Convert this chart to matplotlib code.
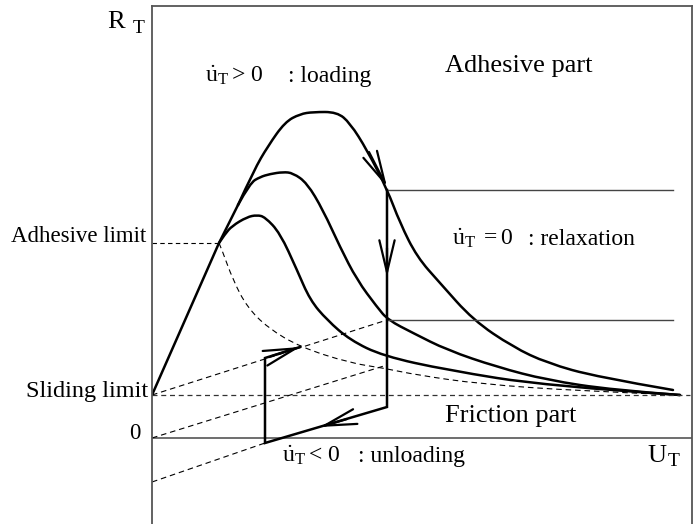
import matplotlib
matplotlib.use("Agg")
import matplotlib.pyplot as plt
from matplotlib.path import Path
from matplotlib.patches import PathPatch

plt.rcParams['font.family'] = ['Liberation Serif', 'DejaVu Serif']
plt.rcParams['mathtext.fontset'] = 'custom'
plt.rcParams['mathtext.rm'] = 'Liberation Serif'
plt.rcParams['mathtext.it'] = 'Liberation Serif:italic'

# ---- data (U, R) read from the schematic ----
sliding_limit = 4.3
adhesive_limit = 19.5

load_U = [0.0, 6.7, 8.6]
load_R = [4.3, 19.5, 23.3]

outer_U = [8.6, 10.2, 11.6, 13.3, 14.8, 16.1, 18.5, 19.8, 21.5, 23.5, 24.8, 26.5, 28.8, 32.1, 36.1, 39.5, 44.5, 52.1]
outer_R = [23.3, 26.8, 29.2, 31.6, 32.4, 32.6, 32.6, 31.5, 28.8, 24.9, 21.5, 18.1, 15.5, 11.8, 9.1, 7.5, 6.1, 4.8]

middle_U = [8.6, 9.8, 10.8, 11.8, 13.1, 14.1, 15.5, 17.1, 18.8, 20.5, 22.5, 23.6, 26.1, 29.5, 34.5, 39.5, 46.1, 52.8]
middle_R = [23.3, 25.5, 26.1, 26.4, 26.6, 26.5, 25.5, 22.8, 19.1, 15.8, 13.1, 11.8, 10.5, 8.8, 7.1, 5.8, 4.8, 4.3]

inner_U = [6.7, 7.3, 8.0, 9.5, 10.5, 11.3, 12.8, 14.5, 15.8, 17.5, 19.8, 23.1, 29.5, 39.5, 52.8]
inner_R = [19.5, 20.4, 21.2, 22.1, 22.3, 22.1, 20.5, 16.8, 13.8, 11.8, 9.8, 8.2, 6.8, 5.2, 4.3]

env_U = [6.7, 7.0, 8.1, 9.5, 11.6, 14.8, 19.8, 23.1, 26.5, 32.8, 42.8, 52.8]
env_R = [19.5, 18.8, 15.8, 13.1, 11.0, 9.1, 7.5, 7.0, 6.3, 5.4, 4.7, 4.3]

relax_levels = [24.8, 11.8]
relax_U = [23.5, 52.1]

path_U = [23.5, 23.5, 11.3, 11.3, 14.8]
path_R = [24.8, 3.1, -0.5, 8.0, 9.1]

elastic1_U = [0.0, 23.5]
elastic1_R = [4.3, 11.8]
elastic2_U = [0.0, 23.5]
elastic2_R = [0.0, 7.3]
elastic3_U = [0.0, 11.3]
elastic3_R = [-4.4, -0.5]

# arrows: (tip, tail)
arrows = [((23.5, 25.1), (21.7, 28.6)),
          ((23.5, 16.1), (23.5, 19.0)),
          ((16.8, 1.1), (19.5, 1.9)),
          ((14.8, 9.1), (12.0, 8.2))]


def smooth_path(us, rs):
    """Quadratic-Bezier path using the read points as control points."""
    pts = list(zip(us, rs))
    verts = [pts[0]]
    codes = [Path.MOVETO]
    for i in range(1, len(pts) - 1):
        mid = ((pts[i][0] + pts[i + 1][0]) / 2, (pts[i][1] + pts[i + 1][1]) / 2)
        if i == len(pts) - 2:
            mid = pts[-1]
        verts += [pts[i], mid]
        codes += [Path.CURVE3, Path.CURVE3]
    return Path(verts, codes)


W, H = 695, 524
fig = plt.figure(figsize=(W / 100, H / 100), dpi=100)
ax = fig.add_axes([152 / W, 0, (692 - 152) / W, (524 - 6) / H])
ax.set_xlim(0, 54.0)
ax.set_ylim(-8.6, 43.2)
ax.set_xticks([])
ax.set_yticks([])
for s in ['left', 'right', 'top']:
    ax.spines[s].set_color('#555555')
    ax.spines[s].set_linewidth(1.3)
ax.spines['bottom'].set_visible(False)

lw_thick = 1.8
ax.axhline(0, color='#555555', lw=1.2)
ax.plot(load_U, load_R, color='black', lw=lw_thick, solid_capstyle='round')
for cu, cr in [(outer_U, outer_R), (middle_U, middle_R), (inner_U, inner_R)]:
    ax.add_patch(PathPatch(smooth_path(cu, cr), facecolor='none', edgecolor='black',
                           lw=lw_thick, joinstyle='round', capstyle='round'))
ax.add_patch(PathPatch(smooth_path(env_U, env_R), facecolor='none', edgecolor='black',
                       lw=0.8, ls=(0, (5, 3.5))))
ax.plot([0, 53.8], [sliding_limit, sliding_limit], color='#333333', lw=0.9, ls=(0, (4, 3)))
ax.plot([0, 6.7], [adhesive_limit, adhesive_limit], color='black', lw=0.8, ls=(0, (4, 3)))
for lvl in relax_levels:
    ax.plot(relax_U, [lvl, lvl], color='#444444', lw=1.0)
ax.plot(path_U, path_R, color='black', lw=lw_thick, solid_joinstyle='miter')
for eu, er in [(elastic1_U, elastic1_R), (elastic2_U, elastic2_R), (elastic3_U, elastic3_R)]:
    ax.plot(eu, er, color='black', lw=0.8, ls=(0, (5, 3.5)))

for tip, tail in arrows:
    ax.annotate('', xy=tip, xytext=tail,
                arrowprops=dict(arrowstyle='->,head_length=2.3,head_width=0.55',
                                color='black', lw=1.6, shrinkA=0, shrinkB=0))

# texts
ax.text(-4.5, 41.0, 'R', fontsize=19, ha='left', va='baseline', clip_on=False)
ax.text(-1.9, 40.5, 'T', fontsize=14, ha='left', va='baseline', clip_on=False)
ax.text(49.5, -2.4, 'U', fontsize=19, ha='left', va='baseline')
ax.text(51.6, -2.8, 'T', fontsize=14, ha='left', va='baseline')
ax.text(29.3, 36.6, 'Adhesive part', fontsize=19, ha='left', va='baseline')
ax.text(29.3, 1.6, 'Friction part', fontsize=19, ha='left', va='baseline')
ax.text(-0.6, 19.6, 'Adhesive limit', fontsize=16.5, ha='right', va='baseline', clip_on=False)
ax.text(-0.4, 4.1, 'Sliding limit', fontsize=17.5, ha='right', va='baseline', clip_on=False)
ax.text(-1.2, -0.1, '0', fontsize=16.5, ha='right', va='baseline', clip_on=False)

fs = 17
ax.text(5.3, 35.6, r'$\dot{\mathrm{u}}_{\mathrm{T}}{>}\,0$', fontsize=fs, ha='left', va='baseline')
ax.text(13.6, 35.6, ': loading', fontsize=fs, ha='left', va='baseline')
ax.text(30.0, 19.3, r'$\dot{\mathrm{u}}_{\mathrm{T}}\ {=}0$', fontsize=fs, ha='left', va='baseline')
ax.text(37.6, 19.3, ': relaxation', fontsize=fs, ha='left', va='baseline')
ax.text(13.0, -2.4, r'$\dot{\mathrm{u}}_{\mathrm{T}}{<}\,0$', fontsize=fs, ha='left', va='baseline')
ax.text(20.6, -2.4, ': unloading', fontsize=fs, ha='left', va='baseline')

fig.savefig('out.png', dpi=100)
